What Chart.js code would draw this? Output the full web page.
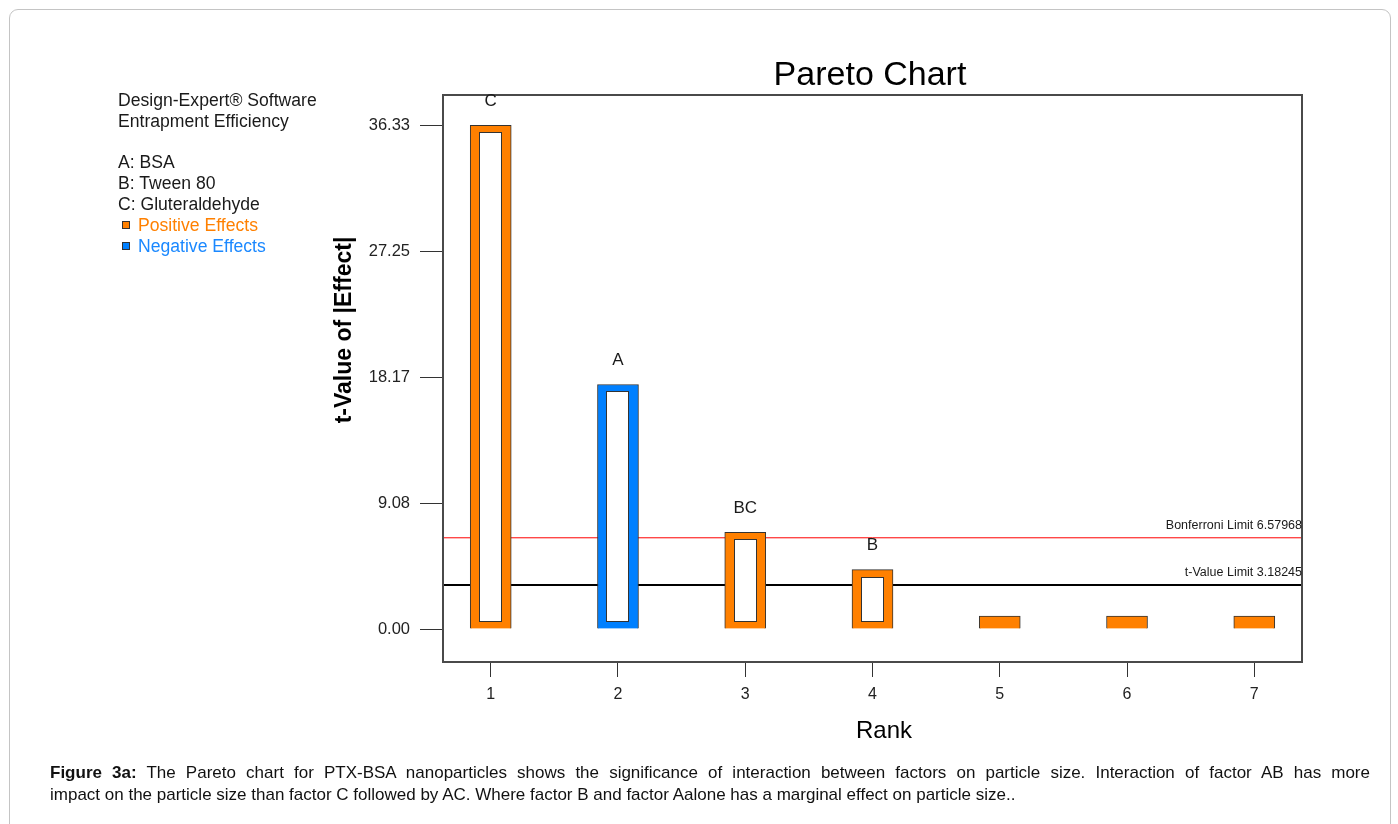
<!DOCTYPE html>
<html>
<head>
<meta charset="utf-8">
<script src="https://cdn.jsdelivr.net/npm/chart.js@4/dist/chart.umd.min.js"></script>
<style>
  body { margin: 0; background: #fff; font-family: "Liberation Sans", Arial, sans-serif; }
  #page { position: relative; width: 1398px; height: 824px; overflow: hidden; }
  #frame { position: absolute; left: 9px; top: 9px; width: 1380px; height: 840px;
           border: 1px solid #c4c4c4; border-radius: 9px; }
  #wrap { position: absolute; left: 0; top: 0; width: 1398px; height: 824px; }
  #info { position: absolute; left: 118px; top: 90px; font-size: 17.6px; line-height: 20.8px; color: #1a1a1a; white-space: nowrap; }
  #info .sq { display: inline-block; width: 6px; height: 6px; border: 1px solid #333; margin: 0 8px 2px 4px; }
  #caption { position: absolute; left: 50px; top: 762px; width: 1320px; font-size: 17px; line-height: 22px; color: #111; }
  #caption .l1 { text-align: justify; text-align-last: justify; white-space: nowrap; }
</style>
</head>
<body>
<div id="page">
  <div id="frame"></div>
  <div id="wrap"><canvas id="paretoChart"></canvas></div>
  <div id="info">
    Design-Expert® Software<br>
    Entrapment Efficiency<br>
    <br>
    A: BSA<br>
    B: Tween 80<br>
    C: Gluteraldehyde<br>
    <span style="color:#ff8000"><span class="sq" style="background:#ff8000"></span>Positive Effects</span><br>
    <span style="color:#1a88ff"><span class="sq" style="background:#0080ff"></span>Negative Effects</span>
  </div>
  <div id="caption">
    <div class="l1"><b>Figure 3a:</b> The Pareto chart for PTX-BSA nanoparticles shows the significance of interaction between factors on particle size. Interaction of factor AB has more</div>
    <div>impact on the particle size than factor C followed by AC. Where factor B and factor Aalone has a marginal effect on particle size..</div>
  </div>
</div>
<script>
const ranks = [1, 2, 3, 4, 5, 6, 7];
const tValues = [36.33, 17.64, 6.97, 4.28, 0.94, 0.94, 0.94];
const effectSigns = ['+', '-', '+', '+', '+', '+', '+'];
const termLabels = ['C', 'A', 'BC', 'B', '', '', ''];
const yTicks = [0, 9.08, 18.17, 27.25, 36.33];
const bonferroniLimit = 6.57968;
const tValueLimit = 3.18245;

const xMin = 0.625, xMax = 7.375;
const yMin = -2.38, yMax = 38.52;

const ORANGE = '#ff8000';
const BLUE = '#0080ff';
const FONT = '"Liberation Sans", Arial, sans-serif';

Chart.defaults.font.family = FONT;

const ctx = document.getElementById('paretoChart').getContext('2d');

// white inner box inside each tall bar, frame, and texts
const paretoDecor = {
    id: 'paretoDecor',
    afterDatasetsDraw(chart) {
        const c = chart.ctx;
        const area = chart.chartArea;
        const meta = chart.getDatasetMeta(0);
        const yScale = chart.scales.y;
        c.save();
        meta.data.forEach((bar, i) => {
            const p = bar.getProps(['x', 'y', 'base', 'width'], true);
            if (p.base - p.y > 20) {
                const l = Math.round(p.x - p.width / 2 + 9) + 0.5;
                const r = Math.round(p.x + p.width / 2 - 9) - 0.5;
                const t = Math.round(p.y + 7) + 0.5;
                const b = Math.round(p.base - 7) - 0.5;
                c.fillStyle = '#fff';
                c.fillRect(l, t, r - l, b - t);
                c.strokeStyle = '#333';
                c.lineWidth = 1;
                c.strokeRect(l, t, r - l, b - t);
            }
        });
        // plot frame
        c.strokeStyle = '#4a4a4a';
        c.lineWidth = 2;
        c.strokeRect(area.left, area.top, area.right - area.left, area.bottom - area.top);

        // term labels above bars
        c.fillStyle = '#1a1a1a';
        c.font = '17px ' + FONT;
        c.textAlign = 'center';
        c.textBaseline = 'middle';
        meta.data.forEach((bar, i) => {
            if (termLabels[i]) c.fillText(termLabels[i], bar.x, bar.y - 24);
        });

        // limit labels
        c.font = '12.5px ' + FONT;
        c.textAlign = 'right';
        c.fillText('Bonferroni Limit ' + bonferroniLimit, area.right, yScale.getPixelForValue(bonferroniLimit) - 12);
        c.fillText('t-Value Limit ' + tValueLimit, area.right, yScale.getPixelForValue(tValueLimit) - 12);

        // title and axis titles
        c.fillStyle = '#000';
        c.textAlign = 'center';
        c.textBaseline = 'alphabetic';
        c.font = '34px ' + FONT;
        c.fillText('Pareto Chart', 870, 85);
        c.font = '24px ' + FONT;
        c.fillText('Rank', 884, 738);
        c.save();
        c.translate(351, 330);
        c.rotate(-Math.PI / 2);
        c.font = 'bold 23px ' + FONT;
        c.fillText('t-Value of |Effect|', 0, 0);
        c.restore();
        c.restore();
    }
};

const data = {
    datasets: [{
        type: 'bar',
        data: ranks.map((r, i) => ({ x: r, y: tValues[i] })),
        backgroundColor: effectSigns.map(s => s === '-' ? BLUE : ORANGE),
        borderColor: '#333',
        borderWidth: 1,
        barThickness: 41,
        order: 0
    }, {
        type: 'line',
        data: [{ x: xMin, y: bonferroniLimit }, { x: xMax, y: bonferroniLimit }],
        borderColor: '#ff0000',
        borderWidth: 1,
        pointRadius: 0,
        order: 1
    }, {
        type: 'line',
        data: [{ x: xMin, y: tValueLimit }, { x: xMax, y: tValueLimit }],
        borderColor: '#000',
        borderWidth: 2,
        pointRadius: 0,
        order: 1
    }]
};

const config = {
    type: 'bar',
    data: data,
    options: {
        responsive: true,
        maintainAspectRatio: false,
        animation: false,
        layout: { padding: { left: 330, right: 96, top: 95, bottom: 122 } },
        plugins: {
            legend: { display: false },
            tooltip: { enabled: false }
        },
        scales: {
            x: {
                type: 'linear',
                min: xMin,
                max: xMax,
                offset: false,
                afterBuildTicks: (scale) => { scale.ticks = ranks.map(v => ({ value: v })); },
                afterFit: (scale) => { scale.height = 40; },
                grid: { display: true, offset: false, drawOnChartArea: false, tickLength: 15, color: '#333' },
                border: { display: false },
                ticks: { color: '#222', font: { size: 16 }, padding: 8 }
            },
            y: {
                type: 'linear',
                min: yMin,
                max: yMax,
                afterBuildTicks: (scale) => { scale.ticks = yTicks.map(v => ({ value: v })); },
                afterFit: (scale) => { scale.width = 113; },
                grid: { display: true, drawOnChartArea: false, tickLength: 23, color: '#333' },
                border: { display: false },
                ticks: { color: '#222', font: { size: 16.5 }, padding: 10, callback: (v) => v.toFixed(2) }
            }
        }
    },
    plugins: [paretoDecor]
};

new Chart(ctx, config);
</script>
</body>
</html>
